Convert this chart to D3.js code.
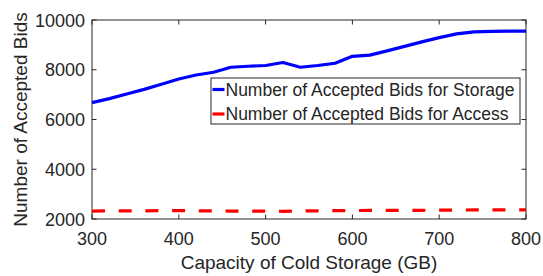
<!DOCTYPE html>
<html>
<head>
<meta charset="utf-8">
<script src="https://d3js.org/d3.v7.min.js"></script>
<style>
  body { margin: 0; background: #fff; }
  svg text { font-family: "Liberation Sans", Arial, sans-serif; fill: #262626; }
</style>
</head>
<body>
<script>
// data
var capacity = [300, 320, 340, 360, 380, 400, 420, 440, 460, 480, 500, 520, 540,
                560, 580, 600, 620, 640, 660, 680, 700, 720, 740, 760, 780, 800];
var storageBids = [6680, 6840, 7025, 7210, 7415, 7630, 7790, 7900, 8100, 8140, 8170, 8290, 8100,
                   8170, 8260, 8540, 8590, 8760, 8940, 9120, 9290, 9440, 9520, 9545, 9550, 9550];
var accessBids = [2320, 2325, 2330, 2330, 2335, 2335, 2330, 2325, 2320, 2315, 2315, 2310, 2320,
                  2330, 2335, 2340, 2345, 2345, 2350, 2350, 2355, 2360, 2365, 2365, 2370, 2370];
var xTicks = [300, 400, 500, 600, 700, 800];
var yTicks = [2000, 4000, 6000, 8000, 10000];
var legendLabels = ["Number of Accepted Bids for Storage", "Number of Accepted Bids for Access"];

var W = 543, H = 276;
var margin = { top: 20, right: 17, bottom: 57, left: 92 };
var width = W - margin.left - margin.right,
    height = H - margin.top - margin.bottom;
var axisColor = "#262626";

var svg = d3.select("body").append("svg")
  .attr("width", W)
  .attr("height", H);

var g = svg.append("g")
  .attr("transform", "translate(" + margin.left + "," + margin.top + ")");

var x = d3.scaleLinear().domain([300, 800]).range([0, width]);
var y = d3.scaleLinear().domain([2000, 10000]).range([height, 0]);

// box with inward ticks on all four sides
var tk = 4.5;
var axes = g.append("g").attr("stroke", axisColor).attr("stroke-width", 1).attr("fill", "none");
axes.append("rect").attr("x", 0).attr("y", 0).attr("width", width).attr("height", height);
xTicks.forEach(function (t) {
  axes.append("line").attr("x1", x(t)).attr("x2", x(t)).attr("y1", height).attr("y2", height - tk);
  axes.append("line").attr("x1", x(t)).attr("x2", x(t)).attr("y1", 0).attr("y2", tk);
});
yTicks.forEach(function (t) {
  axes.append("line").attr("x1", 0).attr("x2", tk).attr("y1", y(t)).attr("y2", y(t));
  axes.append("line").attr("x1", width).attr("x2", width - tk).attr("y1", y(t)).attr("y2", y(t));
});

// tick labels
g.selectAll(".xt").data(xTicks).enter().append("text")
  .attr("class", "xt")
  .attr("x", function (d) { return x(d); })
  .attr("y", height + 26)
  .attr("text-anchor", "middle")
  .style("font-size", "18px")
  .text(function (d) { return d; });

g.selectAll(".yt").data(yTicks).enter().append("text")
  .attr("class", "yt")
  .attr("x", -7)
  .attr("y", function (d) { return y(d) + 6.5; })
  .attr("text-anchor", "end")
  .style("font-size", "18px")
  .text(function (d) { return d; });

// axis labels
svg.append("text")
  .attr("x", margin.left + width / 2)
  .attr("y", 269)
  .attr("text-anchor", "middle")
  .style("font-size", "19px")
  .text("Capacity of Cold Storage (GB)");

svg.append("text")
  .attr("transform", "translate(27," + (margin.top + height / 2) + ") rotate(-90)")
  .attr("text-anchor", "middle")
  .style("font-size", "19px")
  .text("Number of Accepted Bids");

// lines
var line = d3.line()
  .x(function (d, i) { return x(capacity[i]); })
  .y(function (d) { return y(d); });

g.append("path")
  .datum(accessBids)
  .attr("d", line)
  .attr("fill", "none")
  .attr("stroke", "#ff0000")
  .attr("stroke-width", 3.2)
  .attr("stroke-dasharray", "13,13.7");

g.append("path")
  .datum(storageBids)
  .attr("d", line)
  .attr("fill", "none")
  .attr("stroke", "#0000ff")
  .attr("stroke-width", 3.2)
  .attr("stroke-linejoin", "round");

// legend
var legend = svg.append("g").attr("transform", "translate(211,78)");
legend.append("rect")
  .attr("x", 0).attr("y", 0)
  .attr("width", 309).attr("height", 46)
  .attr("fill", "#fff")
  .attr("stroke", axisColor)
  .attr("stroke-width", 1);

var legendColors = ["#0000ff", "#ff0000"];
legendLabels.forEach(function (lbl, i) {
  var ly = 11.5 + i * 24.5;
  legend.append("line")
    .attr("x1", 1.5).attr("x2", 13.5)
    .attr("y1", ly).attr("y2", ly)
    .attr("stroke", legendColors[i])
    .attr("stroke-width", 3.2);
  legend.append("text")
    .attr("x", 14.5)
    .attr("y", ly + 6.3)
    .style("font-size", "17.5px")
    .text(lbl);
});
</script>
</body>
</html>
